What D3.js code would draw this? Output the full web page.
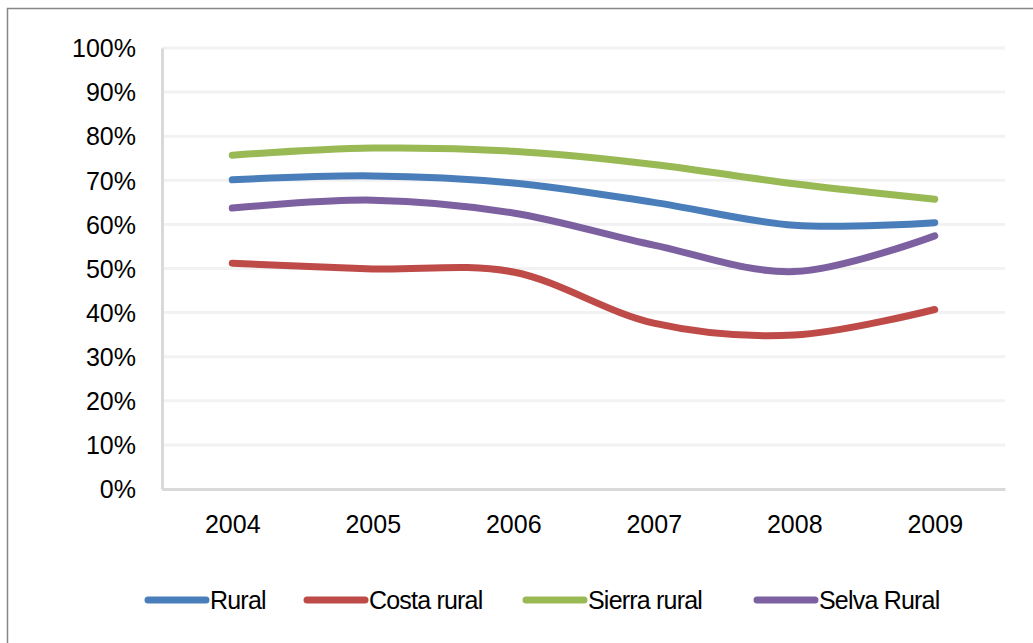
<!DOCTYPE html>
<html>
<head>
<meta charset="utf-8">
<script src="https://cdn.jsdelivr.net/npm/d3@7"></script>
<style>
  body { margin: 0; background: #fff; }
  svg { display: block; font-family: "Liberation Sans", Arial, sans-serif; }
</style>
</head>
<body>
<div id="chart"></div>
<script>
var years = ["2004", "2005", "2006", "2007", "2008", "2009"];
var yTicks = [0, 10, 20, 30, 40, 50, 60, 70, 80, 90, 100];

var seriesNames = ["Rural", "Costa rural", "Sierra rural", "Selva Rural"];
var seriesColors = ["#4a7ebb", "#be4b48", "#98b954", "#7d60a0"];

var rural = [70.1, 71.0, 69.4, 65.0, 59.8, 60.4];
var costaRural = [51.2, 49.9, 49.2, 37.6, 34.9, 40.7];
var sierraRural = [75.7, 77.3, 76.6, 73.6, 69.2, 65.7];
var selvaRural = [63.7, 65.5, 62.6, 55.3, 49.3, 57.4];

var allValues = [rural, costaRural, sierraRural, selvaRural];

(function(){
  var W = 1033, H = 643;
  var plotLeft = 162, plotRight = 1005, plotTop = 48, plotBottom = 489;
  var fsize = 25;

  var svg = d3.select("#chart").append("svg")
    .attr("width", W)
    .attr("height", H);

  // outer chart border
  svg.append("rect")
    .attr("x", 7.5).attr("y", 8.5)
    .attr("width", W + 10).attr("height", H + 10)
    .attr("fill", "none")
    .attr("stroke", "#868686")
    .attr("stroke-width", 1.5);

  var x = d3.scalePoint()
    .domain(years)
    .range([plotLeft, plotRight])
    .padding(0.5);

  var y = d3.scaleLinear()
    .domain([0, 100])
    .range([plotBottom, plotTop]);

  // gridlines
  svg.append("g")
    .selectAll("line")
    .data(yTicks.filter(function(d){ return d > 0; }))
    .enter().append("line")
    .attr("x1", plotLeft).attr("x2", plotRight)
    .attr("y1", function(d){ return y(d); })
    .attr("y2", function(d){ return y(d); })
    .attr("stroke", "#f2f2f2")
    .attr("stroke-width", 3);

  // y axis
  var yAxis = svg.append("g")
    .attr("transform", "translate(" + plotLeft + ",0)")
    .call(d3.axisLeft(y).tickValues(yTicks).tickSize(0).tickPadding(26)
      .tickFormat(function(d){ return d + "%"; }));
  yAxis.select(".domain").attr("stroke", "#d9d9d9").attr("stroke-width", 3);
  yAxis.selectAll("text")
    .attr("font-size", fsize)
    .attr("font-family", "Liberation Sans, Arial, sans-serif")
    .attr("fill", "#000")
    .attr("dy", "0.35em");

  // x axis
  var xAxis = svg.append("g")
    .attr("transform", "translate(0," + plotBottom + ")")
    .call(d3.axisBottom(x).tickSize(0).tickPadding(26));
  xAxis.select(".domain").attr("stroke", "#d9d9d9").attr("stroke-width", 3);
  xAxis.selectAll("text")
    .attr("font-size", fsize)
    .attr("font-family", "Liberation Sans, Arial, sans-serif")
    .attr("fill", "#000");

  // lines
  var line = d3.line()
    .x(function(d, i){ return x(years[i]); })
    .y(function(d){ return y(d); })
    .curve(d3.curveCatmullRom.alpha(0));

  svg.append("g")
    .selectAll("path")
    .data(allValues)
    .enter().append("path")
    .attr("d", line)
    .attr("fill", "none")
    .attr("stroke", function(d, i){ return seriesColors[i]; })
    .attr("stroke-width", 7)
    .attr("stroke-linecap", "round")
    .attr("stroke-linejoin", "round");

  // legend
  var legendX = [148, 307, 526, 757];
  var legend = svg.append("g")
    .selectAll("g")
    .data(seriesNames)
    .enter().append("g")
    .attr("transform", function(d, i){ return "translate(" + legendX[i] + ",600)"; });

  legend.append("line")
    .attr("x1", 0).attr("x2", 58)
    .attr("y1", 0).attr("y2", 0)
    .attr("stroke", function(d, i){ return seriesColors[i]; })
    .attr("stroke-width", 7)
    .attr("stroke-linecap", "round");

  legend.append("text")
    .attr("x", 62)
    .attr("y", 0)
    .attr("dy", "0.35em")
    .attr("font-size", fsize)
    .attr("letter-spacing", -0.8)
    .attr("fill", "#000")
    .text(function(d){ return d; });
})();
</script>
</body>
</html>
